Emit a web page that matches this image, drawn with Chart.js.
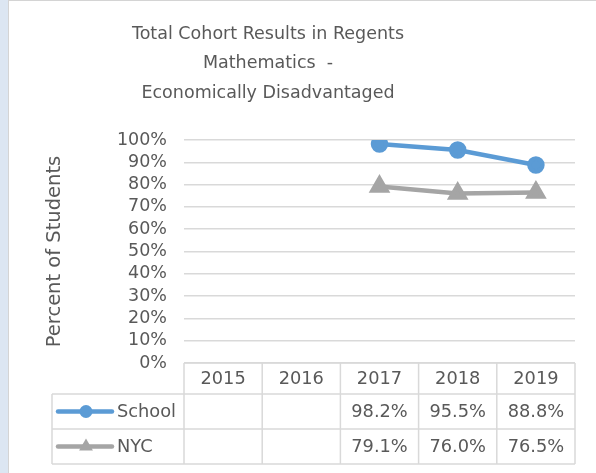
<!DOCTYPE html>
<html>
<head>
<meta charset="utf-8">
<script src="https://cdn.jsdelivr.net/npm/chart.js@4.4.1/dist/chart.umd.min.js"></script>
<style>
  html, body { margin: 0; padding: 0; background: #fff; }
  #wrap { width: 596px; height: 473px; }
</style>
</head>
<body>
<div id="wrap"><canvas id="chart" width="596" height="473"></canvas></div>
<script>
// cohort results, percent of students
const years = ['2015', '2016', '2017', '2018', '2019'];
const schoolPct = [null, null, 98.2, 95.5, 88.8];
const nycPct = [null, null, 79.1, 76.0, 76.5];
const seriesNames = ['School', 'NYC'];
const titleLines = ['Total Cohort Results in Regents', 'Mathematics  -', 'Economically Disadvantaged'];

const FONT = '"DejaVu Sans", sans-serif';
const TEXT = '#595959';
const LINE = '#d9d9d9';

// background, title and the data table under the plot
const tablePlugin = {
    id: 'tablePlugin',
    beforeDraw(chart) {
        const c = chart.ctx;
        c.save();
        c.fillStyle = '#fff';
        c.fillRect(0, 0, chart.width, chart.height);
        c.fillStyle = '#dce6f2';
        c.fillRect(0, 0, 8, chart.height);
        c.fillStyle = '#d4d4d4';
        c.fillRect(8, 0, 1, chart.height);
        c.fillRect(8, 0, chart.width, 1);
        c.restore();
    },
    afterDraw(chart) {
        const c = chart.ctx;
        const area = chart.chartArea;
        const x = chart.scales.x;
        c.save();

        // title
        c.fillStyle = TEXT;
        c.font = '17.5px ' + FONT;
        c.textAlign = 'center';
        c.textBaseline = 'middle';
        titleLines.forEach((t, i) => c.fillText(t, 268, 34 + i * 29.5));

        const colW = (area.right - area.left) / years.length;
        const top = area.bottom;
        const headH = 31;
        const rowH = 35;
        const legLeft = 52;
        const bottom = top + headH + rowH * 2;

        // grid lines of the table
        c.strokeStyle = LINE;
        c.lineWidth = 1.5;
        c.beginPath();
        c.moveTo(area.left, top); c.lineTo(area.right, top);
        for (let r = 0; r <= 2; r++) {
            const y = top + headH + r * rowH;
            c.moveTo(legLeft, y); c.lineTo(area.right, y);
        }
        c.moveTo(legLeft, top + headH); c.lineTo(legLeft, bottom);
        for (let i = 0; i <= years.length; i++) {
            const xx = area.left + i * colW;
            c.moveTo(xx, top); c.lineTo(xx, bottom);
        }
        c.stroke();

        // header + values
        c.fillStyle = TEXT;
        c.font = '17.8px ' + FONT;
        c.textAlign = 'center';
        years.forEach((yr, i) => {
            c.fillText(yr, x.getPixelForValue(i), top + headH / 2 + 1);
        });
        chart.data.datasets.forEach((ds, r) => {
            const cy = top + headH + r * rowH + rowH / 2 + 1;
            ds.data.forEach((v, i) => {
                if (v == null) return;
                c.fillText(v.toFixed(1) + '%', x.getPixelForValue(i), cy);
            });

            // legend key
            const ky = cy - 1;
            c.strokeStyle = ds.borderColor;
            c.lineWidth = ds.borderWidth;
            c.lineCap = 'round';
            c.beginPath();
            c.moveTo(58, ky); c.lineTo(112, ky);
            c.stroke();
            c.fillStyle = ds.pointBackgroundColor;
            Chart.helpers.drawPoint(c, {
                pointStyle: ds.pointStyle,
                radius: ds.pointRadius,
                borderWidth: 0,
                rotation: 0
            }, 86, ky);
            c.fillStyle = TEXT;
            c.textAlign = 'left';
            c.fillText(seriesNames[r], 117, cy);
            c.textAlign = 'center';
        });
        c.restore();
    }
};

new Chart(document.getElementById('chart'), {
    type: 'line',
    data: {
        labels: years,
        datasets: [
            {
                label: seriesNames[0],
                data: schoolPct,
                borderColor: '#5b9bd5',
                backgroundColor: '#5b9bd5',
                pointBackgroundColor: '#5b9bd5',
                pointBorderColor: '#5b9bd5',
                borderWidth: 4.5,
                pointRadius: 6.5,
                pointStyle: 'circle',
                tension: 0
            },
            {
                label: seriesNames[1],
                data: nycPct,
                borderColor: '#a5a5a5',
                backgroundColor: '#a5a5a5',
                pointBackgroundColor: '#a5a5a5',
                pointBorderColor: '#a5a5a5',
                borderWidth: 4.5,
                pointRadius: 8,
                pointStyle: 'triangle',
                tension: 0
            }
        ]
    },
    options: {
        responsive: false,
        animation: false,
        layout: {
            padding: { top: 140, bottom: 110, left: 30, right: 21 }
        },
        plugins: {
            legend: { display: false },
            title: { display: false },
            tooltip: { enabled: false }
        },
        scales: {
            x: {
                display: false,
                offset: true
            },
            y: {
                min: 0,
                max: 100,
                afterFit(scale) { scale.width = 154; },
                border: { display: false },
                grid: {
                    color: LINE,
                    lineWidth: 1.5,
                    drawTicks: false
                },
                ticks: {
                    stepSize: 10,
                    autoSkip: false,
                    padding: 17,
                    color: TEXT,
                    font: { family: FONT, size: 17.5 },
                    callback: v => v + '%'
                },
                title: {
                    display: true,
                    text: 'Percent of Students',
                    color: TEXT,
                    font: { family: FONT, size: 19.5 },
                    padding: { top: 13, bottom: 0 }
                }
            }
        }
    },
    plugins: [tablePlugin]
});
</script>
</body>
</html>
